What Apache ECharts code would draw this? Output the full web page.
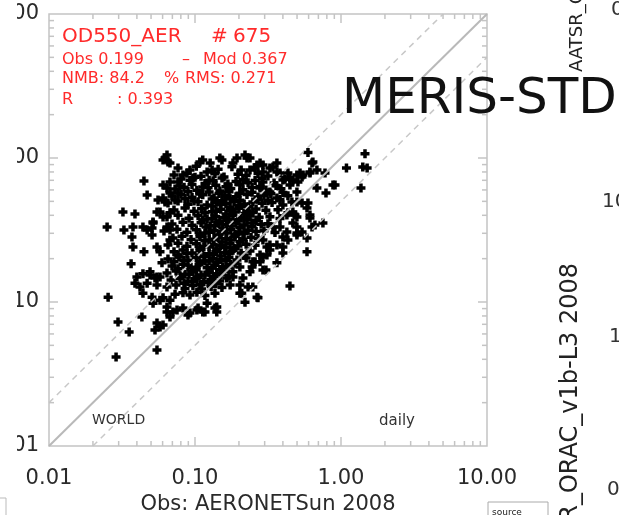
<!DOCTYPE html>
<html>
<head>
<meta charset="utf-8">
<script src="https://cdn.jsdelivr.net/npm/echarts@6/dist/echarts.min.js"></script>
<style>
html,body{margin:0;padding:0;background:#fff;}
#chart{width:619px;height:515px;}
</style>
</head>
<body>
<div id="chart"></div>
<script>
// ---- axis ticks ----
const xTickLabels = [0.01, 0.1, 1, 10];
const minorTicks = [0.02,0.03,0.04,0.05,0.06,0.07,0.08,0.09,0.2,0.3,0.4,0.5,0.6,0.7,0.8,0.9,2,3,4,5,6,7,8,9];
const majorTicks = [0.1, 1];

// ---- reference lines (obs, mod) ----
const oneToOne = [[0.01,0.01],[10,10]];
const factor2Upper = [[0.01,0.02],[5,10]];
const factor2Lower = [[0.02,0.01],[10,5]];

// ---- statistics text ----
const statTitle = 'OD550_AER';
const statCount = '675';
const obsMean = '0.199', modMean = '0.367';
const nmb = '84.2', rms = '0.271', corrR = '0.393';

// ---- scatter points [Obs AOD, Mod AOD] ----
const edgePoints = [
[0.0254,0.108],[0.025,0.332],[0.0297,0.0726],[0.0288,0.0415],[0.0321,0.422],[0.0388,0.409],[0.0326,0.316],[0.0376,0.332],
[0.037,0.283],[0.0376,0.241],[0.0447,0.223],[0.0365,0.184],[0.0354,0.062],[0.0447,0.692],[0.047,0.553],[0.0643,1.05],
[0.0604,0.968],[0.0674,0.922],[0.044,0.332],[0.047,0.316],[0.0508,0.292],[0.0549,0.241],[0.040,0.149],[0.044,0.157],
[0.0492,0.154],[0.0549,0.149],[0.0388,0.135],[0.042,0.127],[0.047,0.135],[0.044,0.115],[0.0508,0.108],[0.0516,0.0982],
[0.0576,0.103],[0.0643,0.0924],[0.0706,0.0853],[0.0674,0.0787],[0.0433,0.0787],[0.0549,0.0715],[0.0604,0.0693],[0.0576,0.0671],
[0.0549,0.0465],[0.0604,0.649],[0.0643,0.618],[0.0558,0.511],[0.0623,0.495],[0.0576,0.422],[0.0604,0.389],[0.0516,0.354],
[0.0643,0.332],[0.0674,0.316],[0.0674,0.270],[0.0674,0.416],[0.0594,0.187],[0.0576,0.149],[0.0643,0.0853],[0.0753,0.0881],
[0.0895,0.0813],[0.103,0.0881],[0.113,0.0853],[0.141,0.0924],[0.141,0.0853],[0.121,0.0982],[0.0532,0.064],
[0.594,1.09],[1.46,1.07],[1.09,0.852],[1.41,0.865],[1.51,0.852],[1.37,0.618],[0.910,0.649],[0.789,0.572],
[0.777,0.786],[0.633,0.922],[0.613,0.786],[0.684,0.618],[0.594,0.487],[0.613,0.383],[0.752,0.354],[0.663,0.343],
[0.633,0.332],[0.585,0.278],[0.585,0.223],[0.400,0.219],[0.447,0.129],[0.364,0.187],[0.306,0.167],[0.270,0.107],
[0.220,0.0997],[0.203,0.115],[0.231,0.127],[0.249,0.127],[0.499,0.301],[0.541,0.306],[0.468,0.354],[0.499,0.332],
[0.433,0.416],[0.484,0.402],[0.461,0.495],[0.499,0.495],[0.524,0.786],[0.541,0.738],[0.433,0.786],[0.468,0.703],
[0.447,0.649],[0.342,0.865],[0.364,0.922],[0.382,0.786],[0.279,0.922],[0.292,0.894],[0.238,1.00],[0.220,1.05],
[0.400,0.241],[0.400,0.283],[0.433,0.270],[0.342,0.332],[0.382,0.332],[0.292,0.270],[0.311,0.241],[0.326,0.230],
[0.292,0.205],[0.279,0.190],[0.292,0.167],[0.246,0.175],[0.258,0.190],[0.209,0.115],[0.266,0.108],[0.182,0.149],
[0.0623,1.00],[0.0653,0.937],[0.108,0.937],[0.113,0.968],[0.148,1.00],[0.153,0.968],[0.227,1.00],[0.881,0.649],
[0.642,0.937],[0.684,0.825],[0.127,0.922],[0.131,0.825],[0.121,0.799],[0.0924,0.825],[0.0827,0.762],[0.0968,0.726],
[0.0674,0.680],[0.0674,0.572],[0.0604,0.527],[0.0549,0.422],[0.0516,0.359],[0.0508,0.327],[0.0576,0.223],[0.0492,0.162],
[0.0532,0.147],[0.0549,0.131],[0.0604,0.107],[0.0674,0.103],[0.0924,0.112],[0.103,0.117],[0.165,0.147],[0.174,0.131],
[0.182,0.162],[0.203,0.131],[0.213,0.147],[0.238,0.162],[0.249,0.190],[0.279,0.212],[0.311,0.212],[0.326,0.249],
[0.364,0.249],[0.426,0.306],[0.499,0.292],[0.499,0.389],[0.468,0.422],[0.426,0.402],[0.400,0.472],[0.364,0.527],
[0.326,0.581],[0.292,0.680],[0.279,0.618],[0.137,0.091],[0.117,0.0853],[0.105,0.091],[0.0924,0.084],[0.0827,0.091],
[0.549,0.762],[0.613,0.799],[0.499,0.762],[0.447,0.726],[0.400,0.703],[0.507,0.680],[0.499,0.581],[0.541,0.487],
[0.585,0.450],[0.613,0.402],[0.364,0.799],[0.326,0.852],[0.292,0.799],[0.266,0.894],[0.238,0.825],[0.194,1.00],[0.182,0.922]
];

const corePoints = [
[0.0765,0.852],[0.102,0.878],[0.144,0.835],[0.179,0.869],[0.207,0.826],[0.258,0.860],
[0.0718,0.762],[0.0881,0.785],[0.110,0.747],[0.137,0.777],[0.158,0.739],[0.197,0.770],[0.224,0.755],[0.270,0.781],[0.316,0.750],
[0.0765,0.680],[0.0924,0.700],[0.117,0.666],[0.133,0.694],[0.168,0.660],[0.191,0.687],[0.231,0.673],[0.258,0.697],[0.348,0.670],
[0.073,0.609],[0.0841,0.627],[0.103,0.597],[0.123,0.621],[0.148,0.591],[0.176,0.615],[0.213,0.603],[0.246,0.624],[0.306,0.600],[0.388,0.612],
[0.0696,0.544],[0.0802,0.560],[0.0954,0.533],[0.113,0.555],[0.135,0.528],[0.160,0.549],[0.191,0.539],[0.227,0.558],[0.270,0.536],[0.297,0.551],[0.433,0.547],
[0.0653,0.487],[0.0765,0.502],[0.0895,0.477],[0.105,0.497],[0.121,0.472],[0.141,0.492],[0.163,0.482],[0.185,0.499],[0.217,0.480],[0.249,0.494],[0.288,0.485],[0.337,0.490],
[0.0718,0.436],[0.0854,0.449],[0.0984,0.427],[0.111,0.445],[0.131,0.423],[0.150,0.440],[0.174,0.431],[0.200,0.447],[0.227,0.429],[0.262,0.442],[0.306,0.433],[0.370,0.438],
[0.0643,0.389],[0.0765,0.401],[0.0910,0.381],[0.105,0.397],[0.121,0.377],[0.139,0.393],[0.158,0.385],[0.182,0.399],[0.207,0.383],[0.238,0.395],[0.275,0.387],[0.326,0.391],[0.382,0.380],
[0.0696,0.348],[0.0827,0.358],[0.0954,0.341],[0.110,0.355],[0.127,0.338],[0.146,0.351],[0.165,0.345],[0.191,0.357],[0.217,0.343],[0.246,0.353],[0.284,0.346],[0.316,0.350],
[0.0613,0.311],[0.0753,0.320],[0.0881,0.305],[0.102,0.317],[0.117,0.302],[0.135,0.314],[0.153,0.308],[0.176,0.319],[0.200,0.306],[0.231,0.315],[0.262,0.309],[0.297,0.313],[0.353,0.304],
[0.0706,0.278],[0.0814,0.286],[0.0939,0.272],[0.108,0.284],[0.125,0.270],[0.144,0.281],[0.163,0.275],[0.188,0.285],[0.213,0.273],[0.242,0.282],[0.270,0.276],
[0.0653,0.249],[0.0765,0.256],[0.0881,0.244],[0.102,0.254],[0.115,0.242],[0.133,0.251],[0.150,0.247],[0.174,0.255],[0.197,0.245],[0.224,0.252],[0.258,0.248],
[0.0718,0.223],[0.0827,0.230],[0.0954,0.219],[0.108,0.227],[0.125,0.216],[0.141,0.225],[0.160,0.221],[0.182,0.229],[0.207,0.219],[0.238,0.226],
[0.0653,0.199],[0.0777,0.205],[0.0895,0.195],[0.102,0.203],[0.117,0.193],[0.133,0.201],[0.150,0.197],[0.171,0.204],[0.194,0.196],[0.224,0.202],
[0.0696,0.178],[0.0827,0.183],[0.0939,0.174],[0.1065,0.182],[0.121,0.173],[0.137,0.180],[0.155,0.176],[0.176,0.183],[0.203,0.175],
[0.0643,0.159],[0.0742,0.164],[0.0854,0.156],[0.0968,0.162],[0.110,0.154],[0.125,0.161],[0.141,0.157],[0.158,0.163],
[0.0685,0.142],[0.0789,0.146],[0.0895,0.139],[0.102,0.145],[0.115,0.138],[0.131,0.143],[0.148,0.140],
[0.0643,0.127],[0.0742,0.131],[0.0854,0.124],[0.0968,0.130],[0.111,0.123],[0.129,0.128],[0.153,0.126],
[0.073,0.113],[0.0827,0.116],[0.117,0.111],[0.137,0.115]
];

const denseCorePoints = [
[0.131,0.464],[0.150,0.476],[0.174,0.455],[0.200,0.470],[0.234,0.459],
[0.117,0.416],[0.139,0.427],[0.163,0.408],[0.188,0.422],[0.217,0.411],[0.249,0.419],
[0.113,0.371],[0.131,0.380],[0.148,0.364],[0.171,0.376],[0.197,0.367],[0.227,0.374],[0.262,0.368],
[0.119,0.332],[0.137,0.341],[0.155,0.326],[0.179,0.337],[0.203,0.328],[0.246,0.335],
[0.108,0.297],[0.125,0.305],[0.144,0.291],[0.165,0.301],[0.188,0.294],[0.217,0.299],
[0.117,0.266],[0.135,0.273],[0.153,0.261],[0.176,0.270],[0.203,0.263],
[0.108,0.237],[0.125,0.243],[0.141,0.233],[0.163,0.240],[0.185,0.235],
[0.0789,0.152],[0.0910,0.156],[0.103,0.149],[0.117,0.154],[0.133,0.150],[0.150,0.155],[0.171,0.151],
[0.0841,0.135],[0.0954,0.139],[0.108,0.132],[0.123,0.137],[0.139,0.134],
[0.0802,0.715],[0.100,0.734],[0.125,0.701],[0.153,0.727],[0.213,0.708],[0.288,0.722],[0.413,0.712],
[0.0789,0.639],[0.0954,0.655],[0.113,0.628],[0.139,0.648],[0.163,0.632],[0.203,0.651],[0.279,0.634],[0.359,0.645],
[0.0765,0.572],[0.0895,0.586],[0.108,0.563],[0.125,0.580],[0.146,0.566],[0.171,0.583],[0.203,0.569],[0.246,0.578],[0.331,0.565],[0.400,0.576],
[0.073,0.511],[0.0854,0.524],[0.0984,0.503],[0.131,0.519],[0.153,0.505],[0.174,0.521],[0.203,0.508],[0.270,0.517],[0.316,0.504],[0.382,0.514],
[0.0765,0.212],[0.0881,0.217],[0.115,0.208],[0.133,0.215],[0.150,0.209],[0.171,0.216],[0.217,0.210],
[0.0718,0.190],[0.0841,0.195],[0.108,0.187],[0.125,0.193],[0.141,0.188],[0.163,0.194],[0.188,0.186],
[0.0765,0.170],[0.0895,0.174],[0.102,0.167],[0.131,0.172],[0.148,0.168],[0.168,0.173]
];

const FONT = 'DejaVu Sans';
const FRAME = '#c4c4c4';
const chart = echarts.init(document.getElementById('chart'), null, {renderer:'canvas'});

function tickRenderer(isX){
  return function(params, api){
    const v = api.value(isX ? 0 : 1);
    const major = majorTicks.indexOf(v) >= 0;
    const len = major ? 9 : 5;
    const style = {stroke: FRAME, lineWidth: 1.5};
    if (isX){
      const b = api.coord([v, 0.01]);
      const t = api.coord([v, 10]);
      return {type:'group', children:[
        {type:'line', shape:{x1:b[0], y1:b[1], x2:b[0], y2:b[1]-len}, style},
        {type:'line', shape:{x1:t[0], y1:t[1], x2:t[0], y2:t[1]+len}, style}
      ]};
    } else {
      const l = api.coord([0.01, v]);
      const r = api.coord([10, v]);
      return {type:'group', children:[
        {type:'line', shape:{x1:l[0], y1:l[1], x2:l[0]+len, y2:l[1]}, style},
        {type:'line', shape:{x1:r[0], y1:r[1], x2:r[0]-len, y2:r[1]}, style}
      ]};
    }
  };
}
const allTicks = majorTicks.concat(minorTicks);

const plusPath = 'path://M2.75,0H6.25V2.75H9V6.25H6.25V9H2.75V6.25H0V2.75H2.75Z';

chart.setOption({
  animation: false,
  backgroundColor: '#fff',
  grid: {left: 49, right: 132, top: 14, bottom: 69, show: true, borderColor: FRAME, borderWidth: 1.5,
         containLabel: false, outerBoundsMode: 'none'},
  xAxis: {
    type: 'log', logBase: 10, min: 0.01, max: 10,
    name: 'Obs: AERONETSun 2008', nameLocation: 'middle', nameGap: 47,
    nameTextStyle: {fontFamily: FONT, fontSize: 21, color: '#2a2a2a'},
    axisLine: {show: false}, axisTick: {show: false}, splitLine: {show: false}, minorTick:{show:false},
    axisLabel: {fontFamily: FONT, fontSize: 21, color: '#2a2a2a', margin: 22, formatter: v => v.toFixed(2)}
  },
  yAxis: {
    type: 'log', logBase: 10, min: 0.01, max: 10,
    axisLine: {show: false}, axisTick: {show: false}, splitLine: {show: false},
    axisLabel: {fontFamily: FONT, fontSize: 21, color: '#2a2a2a', margin: 10, formatter: v => v.toFixed(2)}
  },
  series: [
    {type: 'scatter', data: edgePoints.concat(corePoints, denseCorePoints), symbol: plusPath, symbolSize: 9,
     itemStyle: {color: '#000', opacity: 1}, z: 2, silent: true},
    {type: 'line', data: oneToOne, symbol: 'none', lineStyle: {color: '#b9b9b9', width: 2}, z: 3, silent: true},
    {type: 'line', data: factor2Upper, symbol: 'none', lineStyle: {color: '#c8c8c8', width: 1.5, type: [6,5]}, z: 3, silent: true},
    {type: 'line', data: factor2Lower, symbol: 'none', lineStyle: {color: '#c8c8c8', width: 1.5, type: [6,5]}, z: 3, silent: true},
    {type: 'custom', data: allTicks.map(v => [v, 0.01]), renderItem: tickRenderer(true), z: 4, silent: true},
    {type: 'custom', data: allTicks.map(v => [0.01, v]), renderItem: tickRenderer(false), z: 4, silent: true}
  ],
  graphic: [
    {type:'rect', shape:{x:0, y:0, width:17, height:456}, z:20, style:{fill:'#fff'}},
    {type:'text', x:62, y:37, z:10, style:{text: statTitle, fill:'#ff2a2a', font:'20px ' + FONT, verticalAlign:'middle'}},
    {type:'text', x:211, y:37, z:10, style:{text: '#', fill:'#ff2a2a', font:'20px ' + FONT, verticalAlign:'middle'}},
    {type:'text', x:233, y:37, z:10, style:{text: statCount, fill:'#ff2a2a', font:'20px ' + FONT, verticalAlign:'middle'}},
    {type:'text', x:62, y:60, z:10, style:{text: 'Obs ' + obsMean, fill:'#ff2a2a', font:'16px ' + FONT, verticalAlign:'middle'}},
    {type:'text', x:182, y:60, z:10, style:{text: '–', fill:'#ff2a2a', font:'16px ' + FONT, verticalAlign:'middle'}},
    {type:'text', x:203, y:60, z:10, style:{text: 'Mod ' + modMean, fill:'#ff2a2a', font:'16px ' + FONT, verticalAlign:'middle'}},
    {type:'text', x:62, y:79, z:10, style:{text: 'NMB: ' + nmb, fill:'#ff2a2a', font:'16px ' + FONT, verticalAlign:'middle'}},
    {type:'text', x:164, y:79, z:10, style:{text: '%', fill:'#ff2a2a', font:'16px ' + FONT, verticalAlign:'middle'}},
    {type:'text', x:185, y:79, z:10, style:{text: 'RMS: ' + rms, fill:'#ff2a2a', font:'16px ' + FONT, verticalAlign:'middle'}},
    {type:'text', x:62, y:100, z:10, style:{text: 'R', fill:'#ff2a2a', font:'16px ' + FONT, verticalAlign:'middle'}},
    {type:'text', x:117, y:100, z:10, style:{text: ': ' + corrR, fill:'#ff2a2a', font:'16px ' + FONT, verticalAlign:'middle'}},
    {type:'text', x:92, y:420, z:10, style:{text: 'WORLD', fill:'#333', font:'14px ' + FONT, verticalAlign:'middle'}},
    {type:'text', x:379, y:421, z:10, style:{text: 'daily', fill:'#333', font:'15px ' + FONT, verticalAlign:'middle'}},
    {type:'text', x:342, y:100, z:11, style:{text: 'MERIS-STD', fill:'#111', font:'50px ' + FONT, verticalAlign:'middle'}},
    {type:'text', x:577, y:72, rotation: Math.PI/2, z:10, style:{text: 'AATSR_ORAC_v1b-L3 2008', fill:'#222', font:'18px ' + FONT, verticalAlign:'middle', align:'left'}},
    {type:'text', x:571, y:263, rotation: Math.PI/2, z:10, style:{text: 'Mod: AATSR_ORAC_v1b-L3 2008', fill:'#222', font:'24px ' + FONT, verticalAlign:'middle', align:'right'}},
    {type:'text', x:611, y:10, z:10, style:{text: '0.', fill:'#333', font:'20px ' + FONT, verticalAlign:'middle'}},
    {type:'text', x:602, y:202, z:10, style:{text: '10.00', fill:'#333', font:'20px ' + FONT, verticalAlign:'middle'}},
    {type:'text', x:609, y:337, z:10, style:{text: '1.00', fill:'#333', font:'20px ' + FONT, verticalAlign:'middle'}},
    {type:'text', x:607, y:490, z:10, style:{text: '0.10', fill:'#333', font:'20px ' + FONT, verticalAlign:'middle'}},
    {type:'rect', shape:{x:488, y:502, width:60, height:24}, z:10, style:{fill:'#fff', stroke:'#aaa', lineWidth:1}},
    {type:'text', x:492, y:513, z:11, style:{text: 'source', fill:'#222', font:'9px ' + FONT, verticalAlign:'middle'}},
    {type:'rect', shape:{x:-20, y:498, width:26, height:30}, z:10, style:{fill:'#fff', stroke:'#bbb', lineWidth:1}}
  ]
});
</script>
</body>
</html>
